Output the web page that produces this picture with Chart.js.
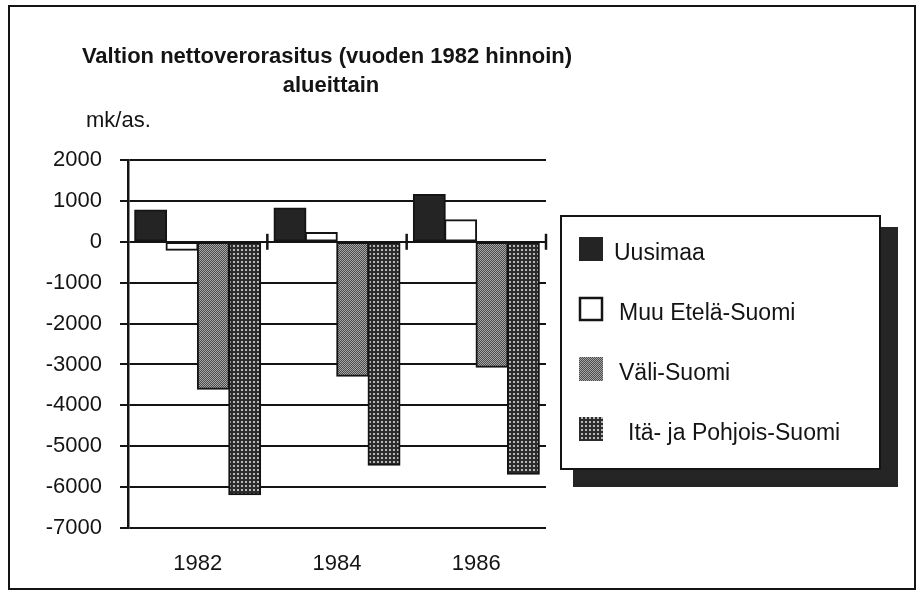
<!DOCTYPE html>
<html><head><meta charset="utf-8">
<script src="https://cdn.jsdelivr.net/npm/chart.js@4"></script>
<style>html,body{margin:0;padding:0;background:#fff;}#wrap{width:919px;height:592px;position:relative;}</style>
</head><body><div id="wrap"><canvas id="c" width="919" height="592"></canvas></div>
<script>
// ---- data ----
const categories = ['1982', '1984', '1986'];
const seriesNames = ['Uusimaa', 'Muu Etelä-Suomi', 'Väli-Suomi', 'Itä- ja Pohjois-Suomi'];
const uusimaa = [770, 820, 1150];
const muuEtela = [-200, 220, 530];
const valiSuomi = [-3600, -3280, -3060];
const itaPohjois = [-6180, -5460, -5680];
const yTicks = [2000, 1000, 0, -1000, -2000, -3000, -4000, -5000, -6000, -7000];
const titleLines = ['Valtion nettoverorasitus (vuoden 1982 hinnoin)', 'alueittain'];
const unitLabel = 'mk/as.';

// ---- styles ----
const FONT = '"Liberation Sans", Arial, Helvetica, sans-serif';
const INK = '#141414';
Chart.defaults.font.family = FONT;
Chart.defaults.color = INK;

function makePattern(size, bg, dots) {
  const c = document.createElement('canvas');
  c.width = size; c.height = size;
  const g = c.getContext('2d');
  g.fillStyle = bg; g.fillRect(0, 0, size, size);
  dots.forEach(d => { g.fillStyle = d[4]; g.fillRect(d[0], d[1], d[2], d[3]); });
  return g.createPattern(c, 'repeat');
}
const ctx = document.getElementById('c').getContext('2d');
const valiPattern = makePattern(2, '#4c4c4c', [[0, 0, 1, 1, '#a6a6a6'], [1, 1, 1, 1, '#a6a6a6']]);
const itaPattern = makePattern(4, '#2c2c2c', [[1, 1, 2, 2, '#b8b8b8']]);

const seriesValues = [uusimaa, muuEtela, valiSuomi, itaPohjois];
const seriesFills = ['#242424', '#ffffff', valiPattern, itaPattern];

const datasets = seriesNames.map((name, i) => ({
  label: name,
  data: seriesValues[i],
  backgroundColor: seriesFills[i],
  borderColor: INK,
  borderWidth: 2,
  borderSkipped: false,
  inflateAmount: 0.8,
  categoryPercentage: 0.9,
  barPercentage: 1.0
}));

const decorPlugin = {
  id: 'decor',
  afterDatasetsDraw(chart) {
    const c = chart.ctx;
    const xs = chart.scales.x, ys = chart.scales.y;
    const y0 = ys.getPixelForValue(0);
    const n = categories.length;
    c.save();
    c.strokeStyle = INK; c.lineWidth = 2.5;
    for (let k = 1; k <= n; k++) {
      const x = xs.left + k * (xs.right - xs.left) / n;
      c.beginPath(); c.moveTo(x, y0 - 8); c.lineTo(x, y0 + 8); c.stroke();
    }
    c.restore();
  },
  afterDraw(chart) {
    const c = chart.ctx;
    c.save();
    // outer frame
    c.strokeStyle = INK; c.lineWidth = 2;
    c.strokeRect(9, 6, 906, 583);
    // title
    c.fillStyle = INK;
    c.textAlign = 'center'; c.textBaseline = 'middle';
    c.font = 'bold 22px ' + FONT;
    c.fillText(titleLines[0], 327, 57);
    c.fillText(titleLines[1], 331, 86);
    // unit
    c.textAlign = 'left';
    c.font = '22px ' + FONT;
    c.fillText(unitLabel, 86, 121);
    // legend with shadow
    const L = 561, T = 216, R = 880, B = 469;
    c.fillStyle = '#252525';
    c.fillRect(573, 227, 898 - 573, 487 - 227);
    c.fillStyle = '#ffffff';
    c.fillRect(L, T, R - L, B - T);
    c.strokeStyle = INK; c.lineWidth = 2;
    c.strokeRect(L, T, R - L, B - T);
    c.font = '23px ' + FONT;
    c.textBaseline = 'middle';
    chart.data.datasets.forEach((ds, i) => {
      const cy = 249 + i * 60;
      c.fillStyle = ds.backgroundColor;
      c.fillRect(579, cy - 12, 24, 24);
      if (i === 1) { c.strokeStyle = INK; c.lineWidth = 2.5; c.strokeRect(580, cy - 11, 22, 22); }
      c.fillStyle = INK;
      c.fillText(ds.label, 614 + (i === 3 ? 14 : i > 0 ? 5 : 0), cy + 5);
    });
    c.restore();
  }
};

new Chart(ctx, {
  type: 'bar',
  data: { labels: categories, datasets },
  options: {
    responsive: false,
    devicePixelRatio: 1,
    animation: false,
    events: [],
    layout: { padding: { left: 0, top: 160, right: 373, bottom: 0 } },
    plugins: { legend: { display: false }, title: { display: false }, tooltip: { enabled: false } },
    scales: {
      x: {
        type: 'category',
        position: 'bottom',
        grid: { display: false, drawTicks: false },
        border: { display: false },
        ticks: { font: { size: 22 }, color: INK, padding: 23, maxRotation: 0 },
        afterFit(s) { s.height = 64; s.paddingLeft = 0; s.paddingRight = 0; }
      },
      y: {
        min: -7000, max: 2000,
        afterBuildTicks(s) { s.ticks = yTicks.map(v => ({ value: v })); },
        grid: { color: INK, lineWidth: 2, drawTicks: true, tickLength: 8 },
        border: { display: true, color: INK, width: 2.5 },
        ticks: { font: { size: 22 }, color: INK, padding: 18, callback: v => String(v) },
        afterFit(s) { s.width = 128; s.paddingTop = 0; s.paddingBottom = 0; }
      }
    }
  },
  plugins: [decorPlugin]
});
</script>
</body></html>
